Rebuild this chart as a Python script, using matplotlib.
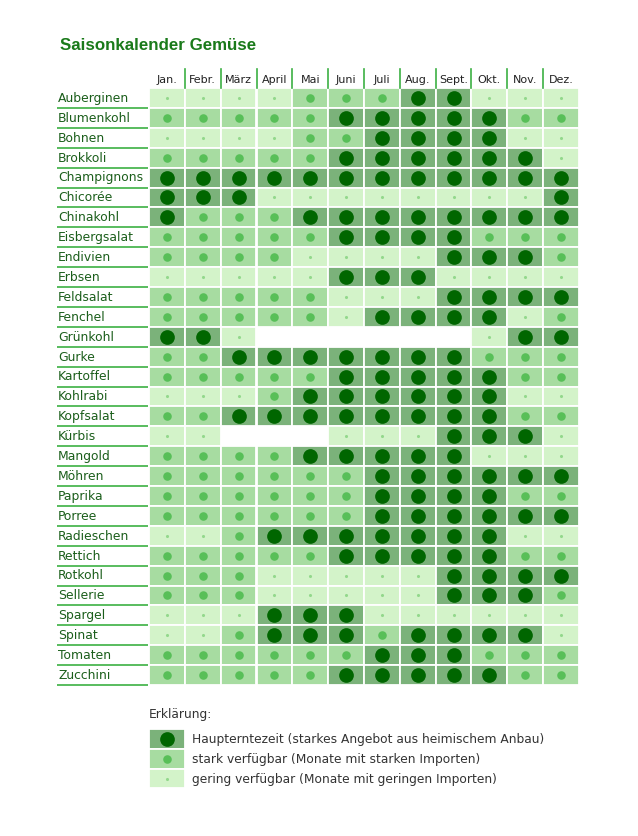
import matplotlib
matplotlib.use("Agg")
import matplotlib.pyplot as plt
from matplotlib.patches import Rectangle

months = ["Jan.", "Febr.", "März", "April", "Mai", "Juni", "Juli", "Aug.", "Sept.", "Okt.", "Nov.", "Dez."]
vegetables = ["Auberginen", "Blumenkohl", "Bohnen", "Brokkoli", "Champignons", "Chicorée",
              "Chinakohl", "Eisbergsalat", "Endivien", "Erbsen", "Feldsalat", "Fenchel",
              "Grünkohl", "Gurke", "Kartoffel", "Kohlrabi", "Kopfsalat", "Kürbis", "Mangold",
              "Möhren", "Paprika", "Porree", "Radieschen", "Rettich", "Rotkohl", "Sellerie",
              "Spargel", "Spinat", "Tomaten", "Zucchini"]
# 0 = nicht verfügbar, 1 = gering, 2 = stark, 3 = Haupterntezeit
auberginen   = [1, 1, 1, 1, 2, 2, 2, 3, 3, 1, 1, 1]
blumenkohl   = [2, 2, 2, 2, 2, 3, 3, 3, 3, 3, 2, 2]
bohnen       = [1, 1, 1, 1, 2, 2, 3, 3, 3, 3, 1, 1]
brokkoli     = [2, 2, 2, 2, 2, 3, 3, 3, 3, 3, 3, 1]
champignons  = [3, 3, 3, 3, 3, 3, 3, 3, 3, 3, 3, 3]
chicoree     = [3, 3, 3, 1, 1, 1, 1, 1, 1, 1, 1, 3]
chinakohl    = [3, 2, 2, 2, 3, 3, 3, 3, 3, 3, 3, 3]
eisbergsalat = [2, 2, 2, 2, 2, 3, 3, 3, 3, 2, 2, 2]
endivien     = [2, 2, 2, 2, 1, 1, 1, 1, 3, 3, 3, 2]
erbsen       = [1, 1, 1, 1, 1, 3, 3, 3, 1, 1, 1, 1]
feldsalat    = [2, 2, 2, 2, 2, 1, 1, 1, 3, 3, 3, 3]
fenchel      = [2, 2, 2, 2, 2, 1, 3, 3, 3, 3, 1, 2]
gruenkohl    = [3, 3, 1, 0, 0, 0, 0, 0, 0, 1, 3, 3]
gurke        = [2, 2, 3, 3, 3, 3, 3, 3, 3, 2, 2, 2]
kartoffel    = [2, 2, 2, 2, 2, 3, 3, 3, 3, 3, 2, 2]
kohlrabi     = [1, 1, 1, 2, 3, 3, 3, 3, 3, 3, 1, 1]
kopfsalat    = [2, 2, 3, 3, 3, 3, 3, 3, 3, 3, 2, 2]
kuerbis      = [1, 1, 0, 0, 0, 1, 1, 1, 3, 3, 3, 1]
mangold      = [2, 2, 2, 2, 3, 3, 3, 3, 3, 1, 1, 1]
moehren      = [2, 2, 2, 2, 2, 2, 3, 3, 3, 3, 3, 3]
paprika      = [2, 2, 2, 2, 2, 2, 3, 3, 3, 3, 2, 2]
porree       = [2, 2, 2, 2, 2, 2, 3, 3, 3, 3, 3, 3]
radieschen   = [1, 1, 2, 3, 3, 3, 3, 3, 3, 3, 1, 1]
rettich      = [2, 2, 2, 2, 2, 3, 3, 3, 3, 3, 2, 2]
rotkohl      = [2, 2, 2, 1, 1, 1, 1, 1, 3, 3, 3, 3]
sellerie     = [2, 2, 2, 1, 1, 1, 1, 1, 3, 3, 3, 2]
spargel      = [1, 1, 1, 3, 3, 3, 1, 1, 1, 1, 1, 1]
spinat       = [1, 1, 2, 3, 3, 3, 2, 3, 3, 3, 3, 1]
tomaten      = [2, 2, 2, 2, 2, 2, 3, 3, 3, 2, 2, 2]
zucchini     = [2, 2, 2, 2, 2, 3, 3, 3, 3, 3, 2, 2]

levels = [auberginen, blumenkohl, bohnen, brokkoli, champignons, chicoree, chinakohl,
          eisbergsalat, endivien, erbsen, feldsalat, fenchel, gruenkohl, gurke, kartoffel,
          kohlrabi, kopfsalat, kuerbis, mangold, moehren, paprika, porree, radieschen,
          rettich, rotkohl, sellerie, spargel, spinat, tomaten, zucchini]

legend_levels = [3, 2, 1]
legend_labels = ["Haupterntezeit (starkes Angebot aus heimischem Anbau)",
                 "stark verfügbar (Monate mit starken Importen)",
                 "gering verfügbar (Monate mit geringen Importen)"]

cell_colors = {1: "#d3f3c9", 2: "#a7dca1", 3: "#7bb27a"}
dot_colors = {1: "#93d88c", 2: "#58bf58", 3: "#006600"}
dot_sizes = {1: 5, 2: 38, 3: 112}

W, H = 638, 837
fig = plt.figure(figsize=(W / 100, H / 100), dpi=100)
fig.patch.set_facecolor("white")

# grid geometry in pixels
x0, x1 = 149, 579
y0 = 89
rowh = 19.9
nrows_total = 36
ax_h = nrows_total * rowh
ax = fig.add_axes([x0 / W, 1 - (y0 + ax_h) / H, (x1 - x0) / W, ax_h / H])
ax.set_xlim(0, 12)
ax.set_ylim(nrows_total, 0)
ax.axis("off")

colw = (x1 - x0) / 12.0
label_x = (58 - x0) / colw
line_x0 = (57 - x0) / colw
line_x1 = (148 - x0) / colw

# cells and dots
for i, (name, row) in enumerate(zip(vegetables, levels)):
    for j, lv in enumerate(row):
        if lv == 0:
            continue
        ax.add_patch(Rectangle((j, i), 1, 1, facecolor=cell_colors[lv],
                               edgecolor="white", linewidth=1.3))
        ax.scatter(j + 0.5, i + 0.5, s=dot_sizes[lv], color=dot_colors[lv],
                   linewidths=0, zorder=3)
    ax.text(label_x, i + 0.47, name, ha="left", va="center", fontsize=8.9,
            color="#1b5e1b", family="DejaVu Sans", clip_on=False)
    ax.plot([line_x0, line_x1], [i + 1, i + 1], color="#3cb043", lw=1.2,
            clip_on=False, solid_capstyle="butt")

# month headers
for j, m in enumerate(months):
    ax.text(j + 0.5, -0.45, m, ha="center", va="center", fontsize=8.0,
            color="#222222", clip_on=False)
    if j > 0:
        ax.plot([j, j], [-0.95, 0], color="#3cb043", lw=1.2, clip_on=False)

# legend
leg_top = 32.2
ax.text(0, leg_top - 0.75, "Erklärung:", ha="left", va="center", fontsize=8.8,
        color="#333333")
for k, (lv, lab) in enumerate(zip(legend_levels, legend_labels)):
    yy = leg_top + k
    ax.add_patch(Rectangle((0, yy), 1, 1, facecolor=cell_colors[lv],
                           edgecolor="white", linewidth=1.3))
    ax.scatter(0.5, yy + 0.5, s=dot_sizes[lv], color=dot_colors[lv], linewidths=0, zorder=3)
    ax.text(1.2, yy + 0.5, lab, ha="left", va="center", fontsize=8.8, color="#333333")

fig.text(60 / W, 1 - 46 / H, "Saisonkalender Gemüse", ha="left", va="center",
         fontsize=12.2, fontweight="bold", color="#1a7a1a", family="Liberation Sans")

fig.savefig("out.png", dpi=100, facecolor="white")
